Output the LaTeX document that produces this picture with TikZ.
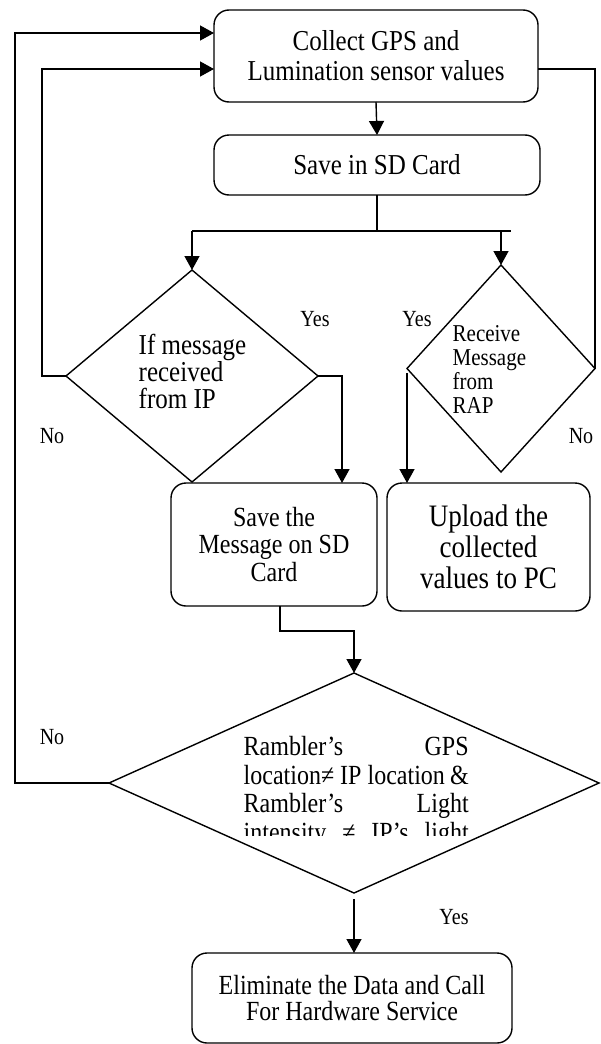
\documentclass[tikz,border=0pt]{standalone}
\usepackage{fontspec}
\setmainfont{Liberation Serif}[FakeStretch=0.8667]
\usetikzlibrary{shapes.geometric,arrows.meta}
\begin{document}
\begin{tikzpicture}[x=1pt,y=-1pt,
  line width=1.4pt,
  arr/.style={-{Triangle[length=14pt,width=15pt]}},
  box/.style={draw,rounded corners=15pt,inner sep=0pt,outer sep=0pt,align=center},
  dia/.style={draw,diamond,inner sep=0pt,outer sep=0pt},
  lbl/.style={font=\fontsize{23.1}{26}\selectfont,inner sep=0pt},
  dtext/.style={inner sep=0pt,align=left}
  ]
\useasboundingbox (0,0) rectangle (600,1044);
\fill[white] (0,0) rectangle (600,1044);

% boxes
\node[box,minimum width=324pt,minimum height=92pt,font=\fontsize{28.85}{30}\selectfont] (b1) at (376,56) {Collect GPS and\\Lumination sensor values};
\node[box,minimum width=326pt,minimum height=60pt,font=\fontsize{28.85}{30}\selectfont] (b2) at (377,165) {Save in SD Card};
\node[box,minimum width=206pt,minimum height=123pt,font=\fontsize{27.7}{27.5}\selectfont] (b3) at (274,544.5) {Save the\\Message on SD\\Card};
\node[box,minimum width=203pt,minimum height=128pt,font=\fontsize{31.2}{31}\selectfont] (b4) at (488.5,547) {Upload the\\collected\\values to PC};
\node[box,minimum width=320pt,minimum height=90pt,font=\fontsize{27.7}{26}\selectfont] (b5) at (352,998) {Eliminate the Data and Call\\For Hardware Service};

% diamonds
\node[dia,minimum width=252pt,minimum height=212pt] (d1) at (192,376) {};
\node[dia,minimum width=188pt,minimum height=207pt] (d2) at (501,368.5) {};
\node[dia,minimum width=490pt,minimum height=220pt] (d3) at (354,783) {};

% diamond texts
\node[dtext,anchor=west,font=\fontsize{28.85}{27}\selectfont] (t1) at (138,371) {If message\\received\\from IP};
\node[dtext,anchor=west,font=\fontsize{24.2}{24}\selectfont] (t2) at (452,369) {Receive\\Message\\from\\RAP};
\begin{scope}
\clip (225,725) rectangle (490,835);
\node[dtext,anchor=north west,font=\fontsize{27.7}{28.5}\selectfont] (t3) at (243,736) {\hbox to 225pt{Rambler’s\hfill GPS}\\\hbox to 225pt{location≠ IP location\hfill \&}\\\hbox to 225pt{Rambler’s\hfill Light}\\\hbox to 225pt{intensity\hfill ≠\hfill IP’s\hfill light}};
\end{scope}

% coordinates
\coordinate (b1in1) at (214,33);
\coordinate (b1in2) at (214,69);
\coordinate (b1out) at (538,69);
\coordinate (l1) at (15,33);
\coordinate (l2) at (42,69);
\coordinate (jL) at (192,231);
\coordinate (jR) at (511,231);
\coordinate (b3in) at (342,483);
\coordinate (d2l) at (407,373);
\coordinate (b4in) at (407,483);
\coordinate (b3out) at (280,606);
\coordinate (bend) at (280,631);

% connectors
\draw[arr] (b1.south) -- (b2.north);
\draw (b2.south) -- (b2.south |- jL);
\draw (jL) -- (jR);
\draw[arr] (jL) -- (d1.north);
\draw[arr] (d2.north |- jL) -- (d2.north);
\draw[arr] (d1.west) -| (l2) -- (b1in2);
\draw[arr] (d3.west) -| (l1) -- (b1in1);
\draw (b1out) -| (d2.east);
\draw[arr] (d1.east) -| (b3in);
\draw[arr] (d2l) -- (b4in);
\draw[arr] (b3out) -- (bend) -| (d3.north);
\draw[arr] ([yshift=-6pt]d3.south) -- (b5.north -| d3.south);

% labels
\node[lbl] (y1) at (315,319) {Yes};
\node[lbl] (y2) at (417,319) {Yes};
\node[lbl] (n1) at (52,436) {No};
\node[lbl] (n2) at (581,436) {No};
\node[lbl] (n3) at (52,737) {No};
\node[lbl] (y3) at (454,917) {Yes};
\end{tikzpicture}
\end{document}
